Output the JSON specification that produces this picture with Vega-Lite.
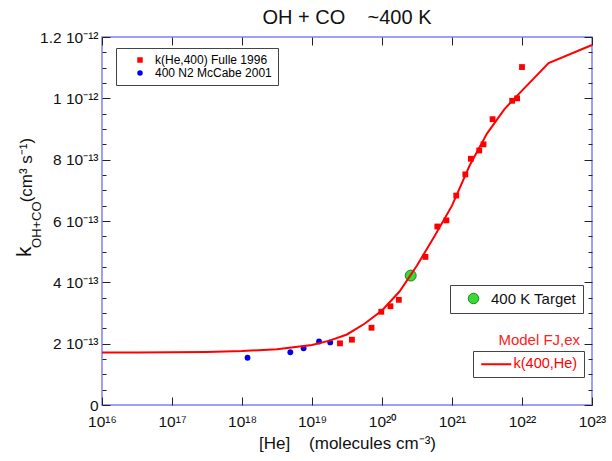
{
  "$schema": "https://vega.github.io/schema/vega-lite/v6.json",
  "width": 490,
  "height": 368,
  "autosize": "none",
  "padding": {"left": 102, "top": 37, "right": 20, "bottom": 56},
  "background": "white",
  "config": {
    "font": "Liberation Sans",
    "view": {"stroke": "#7f7fff", "strokeWidth": 1.5},
    "axis": {
      "domain": false,
      "grid": false,
      "tickColor": "#222222",
      "tickWidth": 1,
      "labelFont": "Liberation Sans",
      "labelFontSize": 15.5,
      "labelColor": "#111111",
      "labelFlush": false,
      "labelOverlap": false,
      "labelBound": false,
      "titleFont": "Liberation Sans",
      "titleFontWeight": "normal",
      "titleColor": "#111111"
    },
    "legend": {"labelFont": "Liberation Sans", "labelLimit": 400}
  },
  "title": {
    "text": "OH + CO\u00a0\u00a0\u00a0 ~400 K",
    "fontSize": 20,
    "fontWeight": "normal",
    "font": "Liberation Sans",
    "color": "#111111",
    "offset": 2
  },
  "datasets": {
    "model": [
      {"He": 1e16, "k": 1.71e-13, "series": "k(400,He)"},
      {"He": 3.16e16, "k": 1.71e-13, "series": "k(400,He)"},
      {"He": 1e17, "k": 1.72e-13, "series": "k(400,He)"},
      {"He": 3.16e17, "k": 1.73e-13, "series": "k(400,He)"},
      {"He": 1e18, "k": 1.76e-13, "series": "k(400,He)"},
      {"He": 3.16e18, "k": 1.82e-13, "series": "k(400,He)"},
      {"He": 1e19, "k": 1.96e-13, "series": "k(400,He)"},
      {"He": 1.78e19, "k": 2.1e-13, "series": "k(400,He)"},
      {"He": 3.16e19, "k": 2.3e-13, "series": "k(400,He)"},
      {"He": 5.62e19, "k": 2.65e-13, "series": "k(400,He)"},
      {"He": 1e20, "k": 3.08e-13, "series": "k(400,He)"},
      {"He": 1.78e20, "k": 3.7e-13, "series": "k(400,He)"},
      {"He": 3.16e20, "k": 4.55e-13, "series": "k(400,He)"},
      {"He": 5.62e20, "k": 5.5e-13, "series": "k(400,He)"},
      {"He": 1e21, "k": 6.5e-13, "series": "k(400,He)"},
      {"He": 1.78e21, "k": 7.8e-13, "series": "k(400,He)"},
      {"He": 3.16e21, "k": 8.85e-13, "series": "k(400,He)"},
      {"He": 5.62e21, "k": 9.65e-13, "series": "k(400,He)"},
      {"He": 1e22, "k": 1.025e-12, "series": "k(400,He)"},
      {"He": 2.4e22, "k": 1.115e-12, "series": "k(400,He)"},
      {"He": 1e23, "k": 1.174e-12, "series": "k(400,He)"}
    ],
    "obs": [
      {"He": 1.2e18, "k": 1.54e-13, "series": "400 N2 McCabe 2001"},
      {"He": 4.9e18, "k": 1.72e-13, "series": "400 N2 McCabe 2001"},
      {"He": 7.59e18, "k": 1.85e-13, "series": "400 N2 McCabe 2001"},
      {"He": 1.26e19, "k": 2.07e-13, "series": "400 N2 McCabe 2001"},
      {"He": 1.82e19, "k": 2.04e-13, "series": "400 N2 McCabe 2001"},
      {"He": 2.51e19, "k": 2.01e-13, "series": "k(He,400) Fulle 1996"},
      {"He": 3.72e19, "k": 2.13e-13, "series": "k(He,400) Fulle 1996"},
      {"He": 7.08e19, "k": 2.52e-13, "series": "k(He,400) Fulle 1996"},
      {"He": 9.77e19, "k": 3.04e-13, "series": "k(He,400) Fulle 1996"},
      {"He": 1.32e20, "k": 3.22e-13, "series": "k(He,400) Fulle 1996"},
      {"He": 1.74e20, "k": 3.43e-13, "series": "k(He,400) Fulle 1996"},
      {"He": 4.17e20, "k": 4.83e-13, "series": "k(He,400) Fulle 1996"},
      {"He": 6.17e20, "k": 5.82e-13, "series": "k(He,400) Fulle 1996"},
      {"He": 8.32e20, "k": 6.02e-13, "series": "k(He,400) Fulle 1996"},
      {"He": 1.15e21, "k": 6.83e-13, "series": "k(He,400) Fulle 1996"},
      {"He": 1.55e21, "k": 7.52e-13, "series": "k(He,400) Fulle 1996"},
      {"He": 1.86e21, "k": 8.03e-13, "series": "k(He,400) Fulle 1996"},
      {"He": 2.45e21, "k": 8.3e-13, "series": "k(He,400) Fulle 1996"},
      {"He": 2.82e21, "k": 8.5e-13, "series": "k(He,400) Fulle 1996"},
      {"He": 3.8e21, "k": 9.32e-13, "series": "k(He,400) Fulle 1996"},
      {"He": 7.24e21, "k": 9.92e-13, "series": "k(He,400) Fulle 1996"},
      {"He": 8.51e21, "k": 1.0e-12, "series": "k(He,400) Fulle 1996"},
      {"He": 1.0e22, "k": 1.102e-12, "series": "k(He,400) Fulle 1996"}
    ],
    "target": [
      {"He": 2.57e20, "k": 4.22e-13, "series": "400 K Target"}
    ]
  },
  "resolve": {
    "scale": {"color": "independent", "shape": "independent"},
    "axis": {"x": "independent", "y": "independent"}
  },
  "layer": [
    {
      "data": {"name": "obs"},
      "mark": {"type": "point", "filled": true, "size": 34, "opacity": 1},
      "encoding": {
        "x": {"field": "He", "type": "quantitative",
          "scale": {"type": "log", "domain": [1e16, 1e23], "nice": false},
          "axis": {"orient": "top", "values": [1e16, 1e17, 1e18, 1e19, 1e20, 1e21, 1e22, 1e23], "labels": false, "tickSize": -8, "title": null}},
        "y": {"field": "k", "type": "quantitative",
          "scale": {"domain": [0, 1.2e-12], "nice": false},
          "axis": {"orient": "right", "values": [0, 2e-13, 4e-13, 6e-13, 8e-13, 1e-12, 1.2e-12], "labels": false, "tickSize": -8, "title": null}},
        "color": {"field": "series", "type": "nominal",
          "scale": {"domain": ["k(He,400) Fulle 1996", "400 N2 McCabe 2001"], "range": ["#ff0000", "#0000ee"]},
          "legend": {"title": null, "orient": "none", "legendX": 14, "legendY": 11, "strokeColor": "#444444", "fillColor": "white", "padding": 6, "symbolOffset": 12, "labelFontSize": 12, "labelOffset": 9, "rowPadding": 1, "symbolSize": 30,
            "encode": {"labels": {"update": {"fill": {"signal": "datum.label == '400 N2 McCabe 2001' ? '#2222ff' : '#ff2222'"}}}}}},
        "shape": {"field": "series", "type": "nominal",
          "scale": {"domain": ["k(He,400) Fulle 1996", "400 N2 McCabe 2001"], "range": ["square", "circle"]},
          "legend": {"title": null, "orient": "none", "legendX": 14, "legendY": 11, "strokeColor": "#444444", "fillColor": "white", "padding": 6, "symbolOffset": 12, "labelFontSize": 12, "labelOffset": 9, "rowPadding": 1, "symbolSize": 30,
            "encode": {"labels": {"update": {"fill": {"signal": "datum.label == '400 N2 McCabe 2001' ? '#2222ff' : '#ff2222'"}}}}}}
      }
    },
    {
      "data": {"name": "target"},
      "mark": {"type": "point", "filled": true, "size": 120, "stroke": "#2a7a2a", "strokeWidth": 1, "opacity": 1},
      "encoding": {
        "x": {"field": "He", "type": "quantitative",
          "scale": {"type": "log", "domain": [1e16, 1e23], "nice": false}, "axis": null},
        "y": {"field": "k", "type": "quantitative",
          "scale": {"domain": [0, 1.2e-12], "nice": false},
          "axis": {"orient": "left", "values": [5e-14, 1e-13, 1.5e-13, 2.5e-13, 3e-13, 3.5e-13, 4.5e-13, 5e-13, 5.5e-13, 6.5e-13, 7e-13, 7.5e-13, 8.5e-13, 9e-13, 9.5e-13, 1.05e-12, 1.1e-12, 1.15e-12], "labels": false, "tickSize": -4, "title": null}},
        "color": {"field": "series", "type": "nominal",
          "scale": {"domain": ["400 K Target"], "range": ["#33dd33"]},
          "legend": {"title": null, "orient": "none", "legendX": 348, "legendY": 248, "strokeColor": "#444444", "fillColor": "white", "padding": 6, "symbolOffset": 10, "symbolSize": 110, "symbolStrokeColor": "#2a7a2a", "symbolStrokeWidth": 1, "labelFontSize": 15, "labelColor": "#111111", "labelOffset": 10}}
      }
    },
    {
      "data": {"name": "model"},
      "mark": {"type": "line", "strokeWidth": 2},
      "encoding": {
        "x": {"field": "He", "type": "quantitative",
          "scale": {"type": "log", "domain": [1e16, 1e23], "nice": false},
          "axis": {"orient": "bottom", "values": [1e16, 1e17, 1e18, 1e19, 1e20, 1e21, 1e22, 1e23], "tickSize": -8, "labelPadding": 17,
            "labelExpr": "'10' + ['¹⁶','¹⁷','¹⁸','¹⁹','²⁰','²¹','²²','²³'][round(log(datum.value)/LN10) - 16]",
            "title": "[He]\u00a0\u00a0\u00a0 (molecules cm⁻³)", "titleFontSize": 17, "titlePadding": 6}},
        "y": {"field": "k", "type": "quantitative",
          "scale": {"domain": [0, 1.2e-12], "nice": false},
          "axis": {"orient": "left", "values": [0, 2e-13, 4e-13, 6e-13, 8e-13, 1e-12, 1.2e-12], "tickSize": -8, "labelPadding": 12,
            "labelExpr": "['0','2 10⁻¹³','4 10⁻¹³','6 10⁻¹³','8 10⁻¹³','1 10⁻¹²','1.2 10⁻¹²'][round(datum.value/2e-13)]",
            "title": null}},
        "color": {"field": "series", "type": "nominal",
          "scale": {"domain": ["k(400,He)"], "range": ["#ff0000"]},
          "legend": {"title": null, "orient": "none", "legendX": 371, "legendY": 314, "strokeColor": "#444444", "fillColor": "white", "padding": 6, "symbolType": "M-3,0L3,0", "symbolSize": 100, "symbolOffset": 10, "symbolStrokeWidth": 2, "labelFontSize": 14.5, "labelColor": "#ff0000", "labelOffset": 10}}
      }
    },
    {
      "data": {"values": [{}]},
      "mark": {"type": "text", "text": "Model FJ,ex", "align": "right", "baseline": "middle", "fontSize": 15, "color": "#ff2222", "font": "Liberation Sans"},
      "encoding": {
        "x": {"datum": 6.76e22, "type": "quantitative", "scale": {"type": "log", "domain": [1e16, 1e23], "nice": false}, "axis": null},
        "y": {"datum": 2.12e-13, "type": "quantitative", "scale": {"domain": [0, 1.2e-12], "nice": false},
          "axis": {"orient": "right", "values": [5e-14, 1e-13, 1.5e-13, 2.5e-13, 3e-13, 3.5e-13, 4.5e-13, 5e-13, 5.5e-13, 6.5e-13, 7e-13, 7.5e-13, 8.5e-13, 9e-13, 9.5e-13, 1.05e-12, 1.1e-12, 1.15e-12], "labels": false, "tickSize": -4, "title": null}}
      }
    },
    {
      "data": {"values": [{}]},
      "mark": {"type": "text", "text": "k", "align": "center", "baseline": "middle", "angle": 270, "fontSize": 21, "color": "#111111", "font": "Liberation Sans"},
      "encoding": {
        "x": {"datum": 7.94e14, "type": "quantitative", "scale": {"type": "log", "domain": [1e16, 1e23], "nice": false}, "axis": null},
        "y": {"datum": 5.0e-13, "type": "quantitative", "scale": {"domain": [0, 1.2e-12], "nice": false}, "axis": null}
      }
    },
    {
      "data": {"values": [{}]},
      "mark": {"type": "text", "text": "OH+CO", "align": "center", "baseline": "middle", "angle": 270, "fontSize": 13, "color": "#111111", "font": "Liberation Sans"},
      "encoding": {
        "x": {"datum": 1.18e15, "type": "quantitative", "scale": {"type": "log", "domain": [1e16, 1e23], "nice": false}, "axis": null},
        "y": {"datum": 5.88e-13, "type": "quantitative", "scale": {"domain": [0, 1.2e-12], "nice": false}, "axis": null}
      }
    },
    {
      "data": {"values": [{}]},
      "mark": {"type": "text", "text": "(cm³ s⁻¹)", "align": "center", "baseline": "middle", "angle": 270, "fontSize": 17, "color": "#111111", "font": "Liberation Sans"},
      "encoding": {
        "x": {"datum": 8.5e14, "type": "quantitative", "scale": {"type": "log", "domain": [1e16, 1e23], "nice": false}, "axis": null},
        "y": {"datum": 7.66e-13, "type": "quantitative", "scale": {"domain": [0, 1.2e-12], "nice": false}, "axis": null}
      }
    }
  ]
}
